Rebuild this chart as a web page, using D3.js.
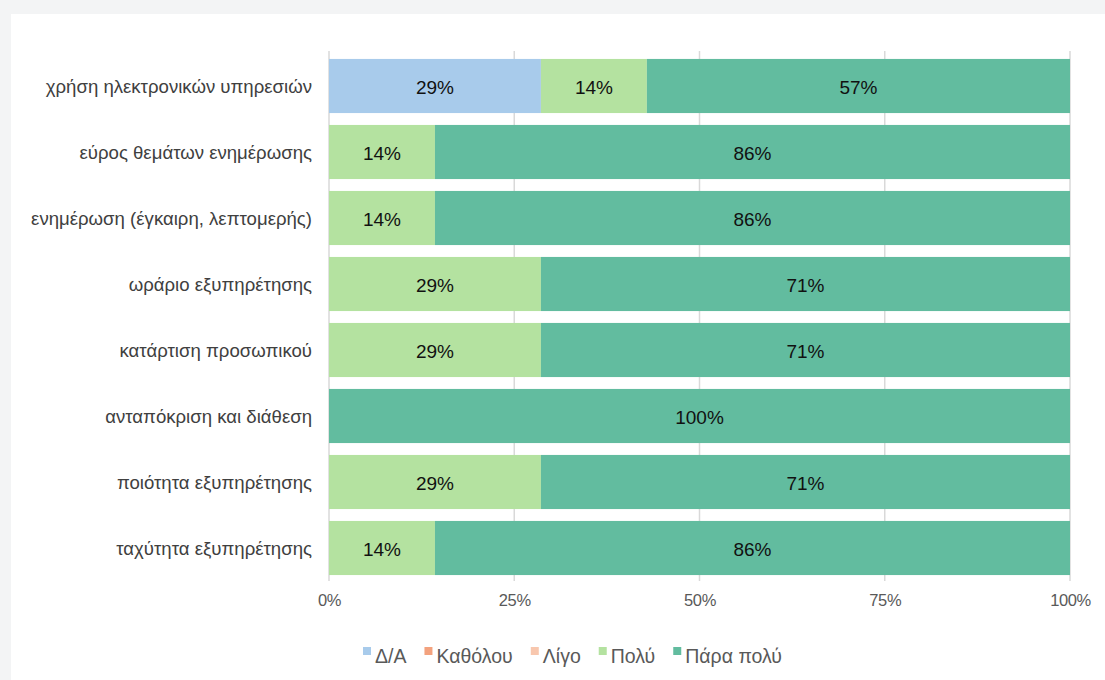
<!DOCTYPE html>
<html><head><meta charset="utf-8">
<script src="https://cdn.jsdelivr.net/npm/d3@7/dist/d3.min.js"></script>
<style>body{margin:0;background:#fff;}svg{display:block;}</style>
</head><body>
<svg id="c" width="1105" height="680"></svg>
<script>
const categories = ["χρήση ηλεκτρονικών υπηρεσιών","εύρος θεμάτων ενημέρωσης","ενημέρωση (έγκαιρη, λεπτομερής)","ωράριο εξυπηρέτησης","κατάρτιση προσωπικού","ανταπόκριση και διάθεση","ποιότητα εξυπηρέτησης","ταχύτητα εξυπηρέτησης"];
const seriesNames = ["Δ/Α","Καθόλου","Λίγο","Πολύ","Πάρα πολύ"];
const seriesColors = ["#a8cbeb","#f3a27e","#f8c7ae","#b4e2a0","#62bc9f"];
const da       = [28.6, 0, 0, 0, 0, 0, 0, 0];
const katholou = [0, 0, 0, 0, 0, 0, 0, 0];
const ligo     = [0, 0, 0, 0, 0, 0, 0, 0];
const poly     = [14.3, 14.3, 14.3, 28.6, 28.6, 0, 28.6, 14.3];
const parapoly = [57.1, 85.7, 85.7, 71.4, 71.4, 100, 71.4, 85.7];
const xTicks = [0, 25, 50, 75, 100];
const xTickLabels = ["0%","25%","50%","75%","100%"];

const seriesValues = [da, katholou, ligo, poly, parapoly];
const svg = d3.select("#c");
// background
svg.append("rect").attr("width",1105).attr("height",680).attr("fill","#f3f4f5");
svg.append("rect").attr("x",11).attr("y",14).attr("width",1094).attr("height",666).attr("fill","#ffffff");

const x = d3.scaleLinear().domain([0,100]).range([329,1070]);
const y = d3.scaleBand().domain(categories).range([53,581]).paddingInner(0.18).paddingOuter(0.09);

// gridlines
svg.append("g").selectAll("line").data(xTicks).join("line")
  .attr("x1",d=>x(d)).attr("x2",d=>x(d)).attr("y1",51).attr("y2",581)
  .attr("stroke","#d9d9d9").attr("stroke-width",1.5);

const rows = categories.map((c,i)=>{
  let acc=0; const segs=[];
  seriesValues.forEach((arr,s)=>{ const v=arr[i]; segs.push({c, s, x0:acc, x1:acc+v, v}); acc+=v; });
  return segs;
}).flat();

svg.append("g").selectAll("rect").data(rows.filter(d=>d.v>0)).join("rect")
  .attr("x",d=>x(d.x0)).attr("width",d=>x(d.x1)-x(d.x0))
  .attr("y",d=>y(d.c)).attr("height",y.bandwidth())
  .attr("fill",d=>seriesColors[d.s]);

svg.append("g").selectAll("text").data(rows.filter(d=>d.v>0)).join("text")
  .attr("x",d=>(x(d.x0)+x(d.x1))/2).attr("y",d=>y(d.c)+y.bandwidth()/2+1)
  .attr("text-anchor","middle").attr("dominant-baseline","central")
  .attr("font-family","Liberation Sans, Arial, sans-serif").attr("font-size",19).attr("fill","#111")
  .text(d=>Math.round(d.v)+"%");

// category labels
const yAxis = svg.append("g").attr("transform","translate(329,0)")
  .call(d3.axisLeft(y).tickSize(0).tickPadding(17));
yAxis.select(".domain").remove();
yAxis.selectAll("text").attr("font-family","Liberation Sans, Arial, sans-serif").attr("font-size",18.6).attr("fill","#404040").attr("dy","0.38em");

// x axis
const xAxis = svg.append("g").attr("transform","translate(0,581)")
  .call(d3.axisBottom(x).tickValues(xTicks).tickFormat((d,i)=>xTickLabels[i]).tickSize(0).tickPadding(13));
xAxis.select(".domain").remove();
xAxis.selectAll("text").attr("font-family","Liberation Sans, Arial, sans-serif").attr("font-size",16.5).attr("letter-spacing","-0.4").attr("fill","#595959");

// legend
const lg = svg.append("g");
let lx = 363;
seriesNames.forEach((n,i)=>{
  lg.append("rect").attr("x",lx).attr("y",647).attr("width",8).attr("height",8).attr("fill",seriesColors[i]);
  const t = lg.append("text").attr("x",lx+12).attr("y",656).attr("dominant-baseline","central")
    .attr("font-family","Liberation Sans, Arial, sans-serif").attr("font-size",19.5).attr("fill","#595959").text(n);
  lx += 12 + t.node().getComputedTextLength() + 18;
});
</script>
</body></html>
